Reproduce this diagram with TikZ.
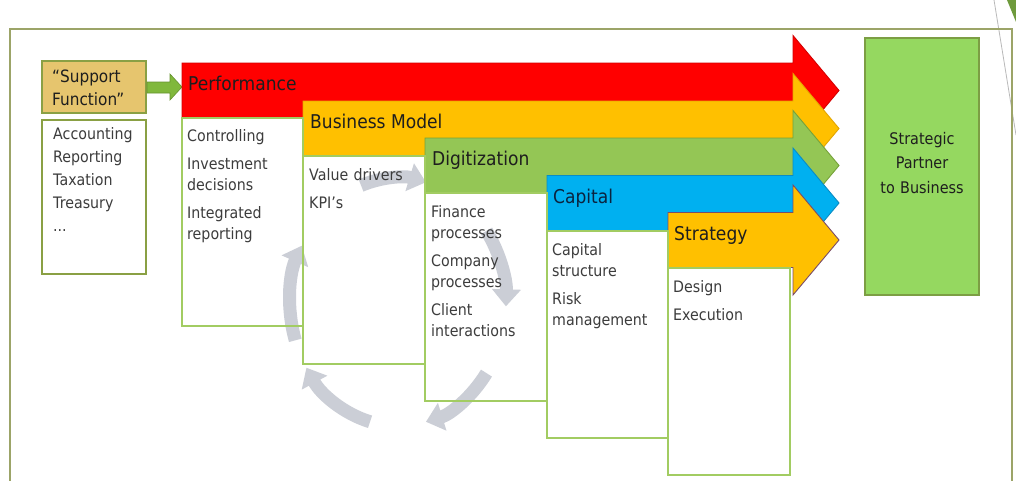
\documentclass[tikz,border=0pt]{standalone}
\usepackage{fontspec}
\setmainfont{DejaVu Sans}[FakeStretch=0.9]
\usetikzlibrary{arrows.meta}
\definecolor{framec}{HTML}{9CA468}
\definecolor{decogreen}{HTML}{6E9A3C}
\definecolor{redA}{HTML}{FF0000}
\definecolor{redB}{HTML}{D40000}
\definecolor{orA}{HTML}{FFC000}
\definecolor{orB}{HTML}{E3A600}
\definecolor{grA}{HTML}{94C655}
\definecolor{grB}{HTML}{76A23A}
\definecolor{blA}{HTML}{00B0F0}
\definecolor{blB}{HTML}{0A8CC4}
\definecolor{stB}{HTML}{7A4C68}
\definecolor{partA}{HTML}{95D860}
\definecolor{partB}{HTML}{7C9E44}
\definecolor{supA}{HTML}{E6C56E}
\definecolor{supB}{HTML}{8AA044}
\definecolor{supArr}{HTML}{80B83C}
\definecolor{bodyB}{HTML}{A2CC62}
\definecolor{headc}{HTML}{1E1E1E}
\definecolor{capc}{HTML}{0B2440}
\definecolor{bodyc}{HTML}{3C3C3C}
\definecolor{cycc}{HTML}{CBCED6}
\newcommand\stagearrow[4]{%
  \filldraw[fill=#3, draw=#4, line width=0.9pt]
    (#1,#2-27.5) -- (793,#2-27.5) -- (793,#2-55) -- (839,#2)
    -- (793,#2+55) -- (793,#2+27.5) -- (#1,#2+27.5) -- cycle;}
\tikzset{
  headtxt/.style={font=\fontsize{19}{22}\selectfont, text=headc, inner sep=0pt, anchor=base west},
  itemtxt/.style={font=\fontsize{15.8}{21}\selectfont, text=bodyc, inner sep=0pt, anchor=base west, text width=118pt, align=left},
  bodybox/.style={draw=bodyB, line width=1.4pt},
  cycarrow/.style={draw=cycc, line width=13pt, -{Triangle[width=28pt,length=17pt]}},
}
\begin{document}
\begin{tikzpicture}[x=1pt,y=-1pt]
\useasboundingbox (0,0) rectangle (1016,480);
\fill[white] (0,0) rectangle (1016,480);
% top-right decoration
\fill[decogreen] (1007,0) -- (1016,0) -- (1016,22) -- cycle;
\draw[gray!55, line width=0.8pt] (994,0) -- (1016,135);
% frame
\draw[framec, line width=2pt] (10,481) -- (10,29) -- (1012,29) -- (1012,481);

% support function
\filldraw[fill=supA, draw=supB, line width=1.4pt] (42,61) rectangle (146,113);
\filldraw[fill=white, draw=supB, line width=1.4pt] (42,120) rectangle (146,274);
\filldraw[fill=supArr, draw=supArr!80!black, line width=0.6pt]
  (147,82) -- (170,82) -- (170,74) -- (182,87) -- (170,100) -- (170,93) -- (147,93) -- cycle;

% strategic partner
\filldraw[fill=partA, draw=partB, line width=1.2pt] (865,38) rectangle (979,295);

% stage arrows and bodies
\stagearrow{182}{90.5}{redA}{redB}
\fill[white] (182,118) rectangle (303,326);
\stagearrow{303}{128.5}{orA}{orB}
\fill[white] (303,156) rectangle (425,364);
\stagearrow{425}{165.5}{grA}{grB}
\fill[white] (425,193) rectangle (547,401);
\stagearrow{547}{203}{blA}{blB}
\fill[white] (547,231) rectangle (668,438);
\stagearrow{668}{240}{orA}{stB}
\fill[white] (668,268) rectangle (790,475);

% cycle arrows
\draw[cycarrow] (398,302) ++(162:108 and 124) arc[start angle=162, end angle=207, x radius=108, y radius=124];
\draw[cycarrow] (398,302) ++(250:108 and 124) arc[start angle=250, end angle=285, x radius=108, y radius=124];
\draw[cycarrow] (398,302) ++(325:108 and 124) arc[start angle=325, end angle=362, x radius=108, y radius=124];
\draw[cycarrow] (398,302) ++(35:108 and 124) arc[start angle=35, end angle=75, x radius=108, y radius=124];
\draw[cycarrow] (398,302) ++(105:108 and 124) arc[start angle=105, end angle=148, x radius=108, y radius=124];

% body borders
\draw[bodybox] (182,118) rectangle (303,326);
\draw[bodybox] (303,156) rectangle (425,364);
\draw[bodybox] (425,193) rectangle (547,401);
\draw[bodybox] (547,231) rectangle (668,438);
\draw[bodybox] (668,268) rectangle (790,475);

% texts
\node[itemtxt, font=\fontsize{17}{23.5}\selectfont, text=headc] (sup) at (52,82) {“Support\\Function”};
\node[itemtxt, font=\fontsize{15.8}{23.2}\selectfont] (suplist) at (53,139) {Accounting\\Reporting\\Taxation\\Treasury\\...};

\node[headtxt] (perf) at (188,90.5) {Performance};
\node[itemtxt] (perflist) at (187,141.5) {Controlling\\[7pt]Investment\\decisions\\[7pt]Integrated\\reporting};

\node[headtxt] (bm) at (310,128.5) {Business Model};
\node[itemtxt] (bmlist) at (309,180) {Value drivers\\[7pt]KPI’s};

\node[headtxt] (dig) at (432,165.5) {Digitization};
\node[itemtxt] (diglist) at (431,217) {Finance\\processes\\[7pt]Company\\processes\\[7pt]Client\\interactions};

\node[headtxt, text=capc] (cap) at (553,203) {Capital};
\node[itemtxt] (caplist) at (552,255) {Capital\\structure\\[7pt]Risk\\management};

\node[headtxt] (strat) at (674,240) {Strategy};
\node[itemtxt] (stratlist) at (673,292) {Design\\[7pt]Execution};

\node[font=\fontsize{16}{24.5}\selectfont, text=headc, inner sep=0pt, anchor=base, text width=112pt, align=center] (partner) at (922,144) {Strategic\\Partner\\to Business};
\end{tikzpicture}
\end{document}
